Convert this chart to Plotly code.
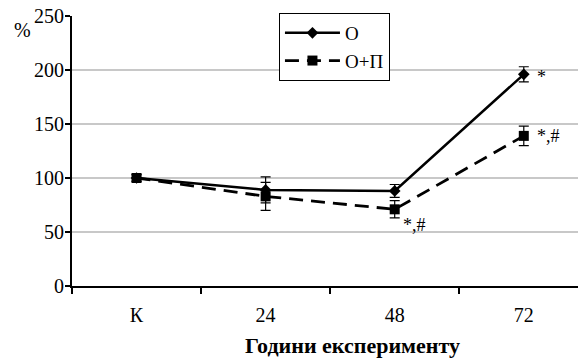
import plotly.graph_objects as go

categories = ["К", "24", "48", "72"]
o_vals = [100, 89, 88, 196]
o_err = [3, 12, 6, 7]
op_vals = [100, 83, 71, 139]
op_err = [3, 13, 8, 9]
y_ticks = [0, 50, 100, 150, 200, 250]

font = "Times New Roman"

fig = go.Figure()
fig.add_trace(go.Scatter(
    x=categories, y=o_vals, name="O", mode="lines+markers",
    line=dict(color="black", width=2.5),
    marker=dict(symbol="diamond", size=9, color="black"),
    error_y=dict(type="data", array=o_err, color="black", thickness=1.2, width=5),
))
fig.add_trace(go.Scatter(
    x=categories, y=op_vals, name="O+П", mode="lines+markers",
    line=dict(color="black", width=2.8, dash="14px,8px"),
    marker=dict(symbol="square", size=10, color="black"),
    error_y=dict(type="data", array=op_err, color="black", thickness=1.2, width=5),
))

plot_w = 578 - 72
plot_h = 360 - 16 - 74

ann_font = dict(family=font, size=18, color="black")
fig.add_annotation(x=3, y=o_vals[3], text="*", showarrow=False, xshift=11, yshift=-3,
                   font=ann_font, xanchor="left")
fig.add_annotation(x=3, y=op_vals[3], text="*,#", showarrow=False, xshift=11, yshift=0,
                   font=ann_font, xanchor="left")
fig.add_annotation(x=2, y=op_vals[2], text="*,#", showarrow=False, xshift=6, yshift=-16,
                   font=ann_font, xanchor="left")
fig.add_annotation(x=0, y=1.0, xref="paper", yref="paper", text="%", showarrow=False,
                   xshift=-50, yshift=-14, font=dict(family=font, size=20, color="black"),
                   xanchor="center", yanchor="middle")
fig.add_annotation(x=(352 - 72) / plot_w, y=-(345 - 286) / plot_h, xref="paper", yref="paper",
                   text="<b>Години експерименту</b>", showarrow=False,
                   font=dict(family=font, size=22, color="black"),
                   xanchor="center", yanchor="middle")

fig.update_layout(
    width=578, height=360,
    margin=dict(l=72, r=0, t=16, b=74, autoexpand=False),
    paper_bgcolor="white", plot_bgcolor="white",
    font=dict(family=font, size=20, color="black"),
    showlegend=True,
    legend=dict(x=0.409, y=1.0 + 3 / plot_h, xanchor="left", yanchor="top",
                bgcolor="white", bordercolor="black", borderwidth=1,
                font=dict(family=font, size=19, color="black"),
                itemwidth=55, tracegroupgap=0),
    xaxis=dict(
        type="category", range=[-0.5, 3.42], automargin=False,
        showline=True, linecolor="black", linewidth=2,
        ticks="outside", tickson="boundaries", ticklen=6, tickcolor="black", tickwidth=2,
        showgrid=False, ticklabelstandoff=10,
        tickfont=dict(family=font, size=20),
    ),
    yaxis=dict(
        range=[0, 250], tickvals=y_ticks, automargin=False,
        showline=True, linecolor="black", linewidth=2,
        ticks="outside", ticklen=5, tickcolor="black", tickwidth=1.5,
        showgrid=True, gridcolor="#c8c8c8", gridwidth=1.5,
        zeroline=False, ticklabelstandoff=-3,
        tickfont=dict(family=font, size=20),
    ),
)

fig.write_html("out.html", post_script="document.body.style.margin='0';",
               config={"displayModeBar": False})
